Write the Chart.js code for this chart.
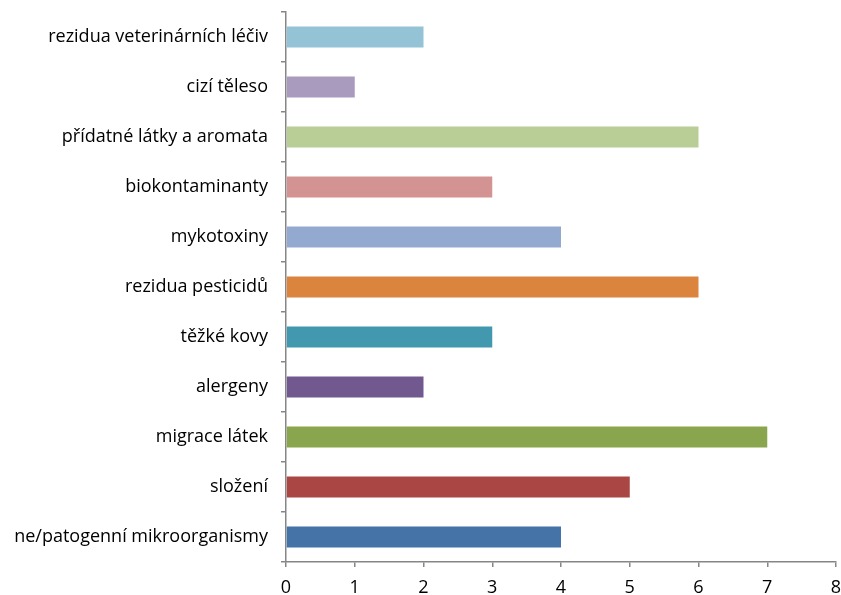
<!DOCTYPE html>
<html>
<head>
<meta charset="utf-8">
<script src="https://cdn.jsdelivr.net/npm/chart.js@4"></script>
<style>
  html, body { margin: 0; padding: 0; background: #fff; }
  #wrap { width: 841px; height: 595px; }
</style>
</head>
<body>
<div id="wrap"><canvas id="chart" width="841" height="595"></canvas></div>
<script>
const categories = [
  'rezidua veterinárních léčiv',
  'cizí těleso',
  'přídatné látky a aromata',
  'biokontaminanty',
  'mykotoxiny',
  'rezidua pesticidů',
  'těžké kovy',
  'alergeny',
  'migrace látek',
  'složení',
  'ne/patogenní mikroorganismy'
];
const counts = [2, 1, 6, 3, 4, 6, 3, 2, 7, 5, 4];
const barColors = [
  '#93C3D5', '#A99BBD', '#B9CD96', '#D39392', '#93A9CF',
  '#DB843D', '#4198AF', '#71588F', '#89A54E', '#AA4643', '#4572A7'
];
const xTicks = [0, 1, 2, 3, 4, 5, 6, 7, 8];

const axisGray = '#868686';
const labelFont = { family: 'Open Sans', size: 18 };
const ctx = document.getElementById('chart');

new Chart(ctx, {
  type: 'bar',
  data: {
    labels: categories,
    datasets: [{
      data: counts,
      backgroundColor: barColors,
      borderWidth: 0,
      barPercentage: 0.42,
      categoryPercentage: 1
    }]
  },
  options: {
    indexAxis: 'y',
    responsive: false,
    animation: false,
    layout: { padding: { top: 12, right: 5, left: 0, bottom: 0 } },
    plugins: { legend: { display: false }, tooltip: { enabled: false } },
    scales: {
      x: {
        min: xTicks[0],
        max: xTicks[xTicks.length - 1],
        afterBuildTicks: s => { s.ticks = xTicks.map(v => ({ value: v })); },
        afterFit: s => { s.height = 33; s.paddingLeft = 0; s.paddingRight = 0; },
        grid: { drawOnChartArea: false, drawTicks: true, tickLength: 5, color: axisGray, lineWidth: 1.5 },
        border: { display: true, color: axisGray, width: 1.5 },
        ticks: { color: '#000', padding: 10, font: labelFont }
      },
      y: {
        afterFit: s => { s.width = 286; s.paddingTop = 0; s.paddingBottom = 0; },
        grid: { drawOnChartArea: false, drawTicks: true, tickLength: 5, color: axisGray, lineWidth: 1.5, offset: true },
        border: { display: true, color: axisGray, width: 1.5 },
        ticks: { color: '#000', padding: 13, font: labelFont }
      }
    }
  }
});
</script>
</body>
</html>
